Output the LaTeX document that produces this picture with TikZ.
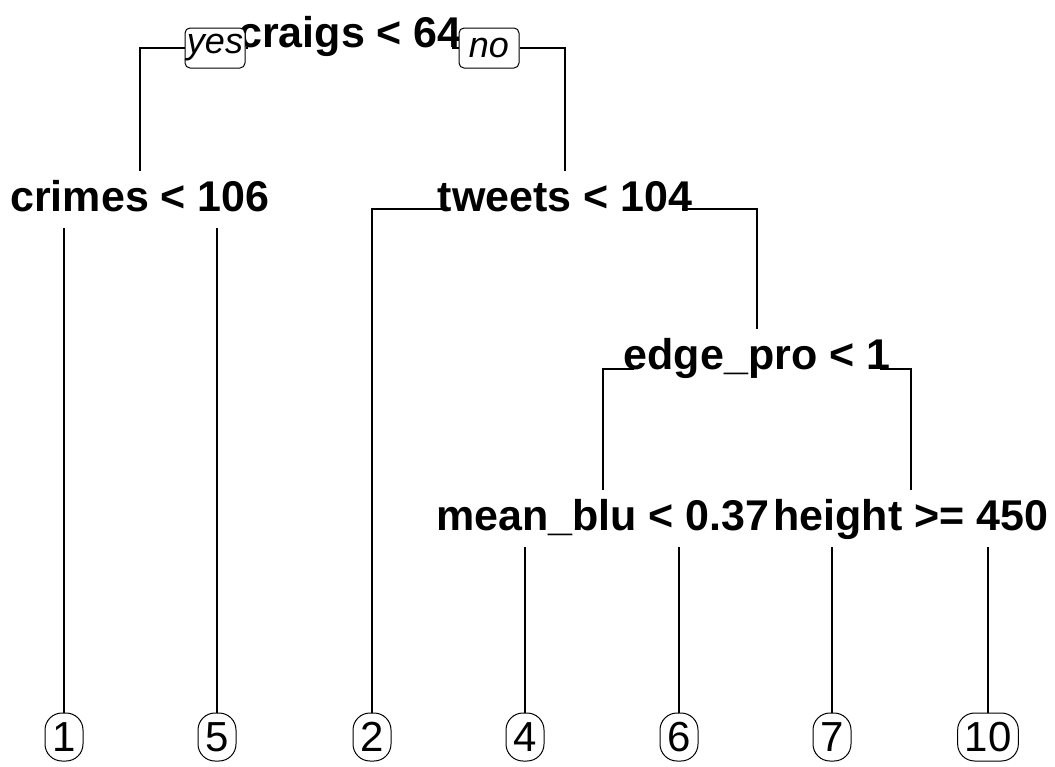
\documentclass[tikz,border=0pt]{standalone}
\usepackage{fontspec}
\setmainfont{Liberation Sans}
\usetikzlibrary{backgrounds}

\begin{document}
\begin{tikzpicture}[
        x=1pt, y=-1pt,
        split/.style={anchor=base, fill=white, inner xsep=-10pt, inner ysep=9pt, text height=31pt, text depth=8pt, font=\fontsize{43}{50}\selectfont\bfseries},
        leaf/.style={draw, rounded corners=17pt, line width=1pt, minimum width=38pt, minimum height=48pt, inner xsep=7pt, font=\fontsize{42}{50}\selectfont},
        side/.style={draw, fill=white, rounded corners=5pt, line width=1pt, minimum width=60pt, minimum height=40pt, inner sep=0pt, font=\fontsize{36}{42}\selectfont\itshape},
        branch/.style={line width=1.3pt}
    ]
        \useasboundingbox (0,0) rectangle (1055,766);

        \node[split] (craigs) at (350,47) {craigs < 64};
        \node[side] (yes) at (215,48) {yes};
        \node[side] (no) at (489,48) {no};

        \node[split] (crimes) at (140,211) {crimes < 106};
        \node[split] (tweets) at (565,211) {tweets < 104};
        \node[split] (edge) at (757,369) {edge\_pro < 1};
        \node[split] (meanblu) at (603,530) {mean\_blu < 0.37};
        \node[split] (height) at (911,530) {height >= 450};

        \node[leaf] (l1) at (64,737) {1};
        \node[leaf] (l5) at (217,737) {5};
        \node[leaf] (l2) at (372,737) {2};
        \node[leaf] (l4) at (525,737) {4};
        \node[leaf] (l6) at (679,737) {6};
        \node[leaf] (l7) at (832,737) {7};
        \node[leaf] (l10) at (988,737) {10};

        \begin{scope}[on background layer]
            \draw[branch] (crimes.north) |- (yes.west);
            \draw[branch] (yes.east) -- (no.west);
            \draw[branch] (no.east) -| (tweets.north);
            \draw[branch] (l1.north) |- (crimes.base) -| (l5.north);
            \draw[branch] (l2.north) |- ([yshift=2pt]tweets.base) -| (edge.north);
            \draw[branch] (meanblu.north) |- (edge.base) -| (height.north);
            \draw[branch] (l4.north) |- (meanblu.base) -| (l6.north);
            \draw[branch] (l7.north) |- (height.base) -| (l10.north);
        \end{scope}
    \end{tikzpicture}
\end{document}
